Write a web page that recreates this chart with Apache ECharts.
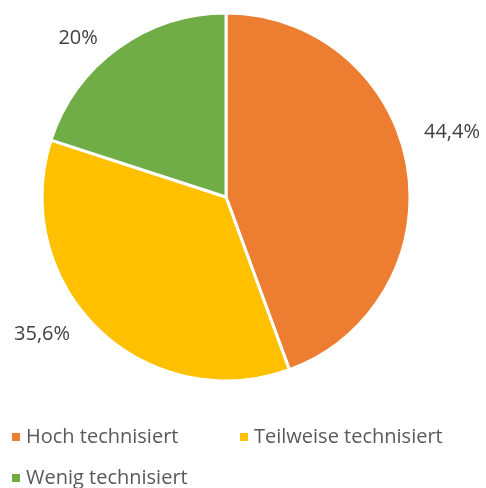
<!DOCTYPE html>
<html>
<head>
<meta charset="utf-8">
<script src="https://cdn.jsdelivr.net/npm/echarts@6/dist/echarts.min.js"></script>
<style>
  html, body { margin: 0; padding: 0; background: #fff; }
  #pie { width: 486px; height: 488px; }
</style>
</head>
<body>
<div id="pie"></div>
<script>
// 数据
const categories = ['Hoch technisiert', 'Teilweise technisiert', 'Wenig technisiert']
const values = [44.4, 35.6, 20]
const labels = ['44,4%', '35,6%', '20%']
const colors = ['#ED7D31', '#FFC000', '#70AD47']

const FONT = '"Open Sans", "Liberation Sans", sans-serif'

document.addEventListener('DOMContentLoaded', function () {
  const myChart = echarts.init(document.getElementById('pie'))
  // 标签微调（Excel 的标签位置不在扇区中线上）
  const labelOffsets = [[-8, -30], [-7, -4], [0, 0]]
  const legendPos = [[5, 422], [233, 422], [5, 463]]
  const option = {
    animation: false,
    color: colors,
    legend: categories.map((name, i) => ({
      data: [name],
      left: legendPos[i][0],
      top: legendPos[i][1],
      icon: 'rect',
      itemWidth: 10,
      itemHeight: 10,
      itemGap: 0,
      textStyle: { fontFamily: FONT, fontSize: 20, color: '#595959' }
    })),
    series: [
      {
        type: 'pie',
        center: [226, 197],
        radius: [0, 184],
        startAngle: 90,
        clockwise: true,
        itemStyle: { borderColor: '#fff', borderWidth: 3 },
        label: {
          show: true,
          position: 'outside',
          overflow: 'none',
          fontFamily: FONT,
          fontSize: 20,
          color: '#404040'
        },
        labelLine: { show: false, length: 12, length2: 8 },
        data: categories.map((name, i) => ({
          name: name,
          value: values[i],
          label: { formatter: labels[i], offset: labelOffsets[i] }
        }))
      }
    ]
  }
  myChart.setOption(option)
})
</script>
</body>
</html>
